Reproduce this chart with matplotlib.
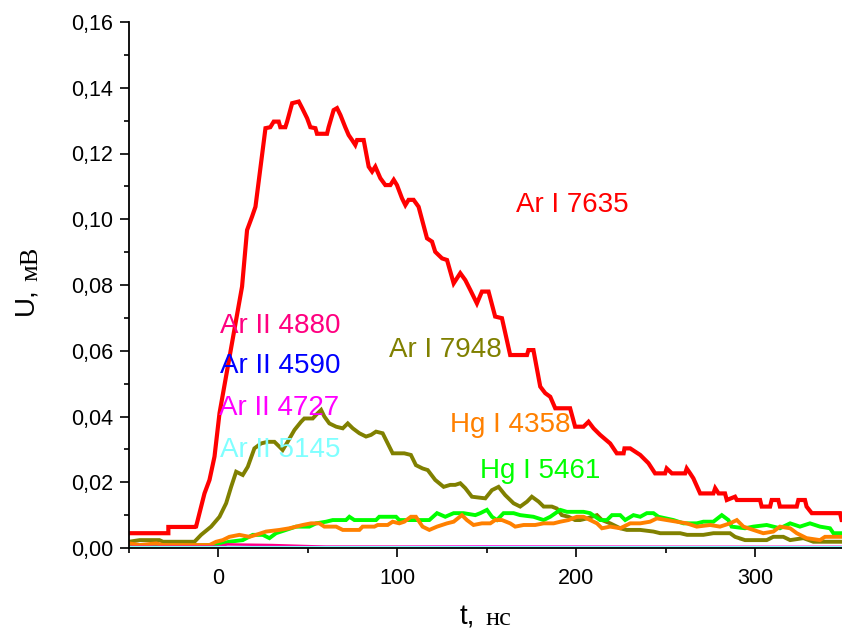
import matplotlib
matplotlib.use("Agg")
import matplotlib.pyplot as plt
from matplotlib.ticker import MultipleLocator, FuncFormatter

# ---------------- data ----------------
t_ar7635 = [-50, -28, -28, -13, -12.5, -10.6, -7.8, -5, -2.2, 0.6, 3.9, 13.2, 16, 18.8, 20.7, 26.3, 29,
            30.9, 33.7, 34.6, 37.4, 38.4, 41.2, 44.9, 46.8, 49.6, 51.4, 54.2, 55.1, 60.7, 61.6, 64.4,
            66.3, 68.2, 70.9, 72.8, 74.7, 76.5, 77.5, 81.2, 84, 85.9, 87.7, 90.5, 93.3, 96.1, 98, 99.8,
            102.6, 104.5, 106.3, 109.1, 111.9, 116.6, 119.4, 121.2, 125, 127.8, 131.5, 135.2, 138,
            140.8, 144.5, 147.3, 151, 154.7, 158.5, 163.1, 172.5, 173.3, 176.1, 179.9, 182.7, 185.5,
            188.3, 196.6, 199.4, 204.1, 206.9, 209.7, 213.4, 219, 222.7, 226.5, 227, 230.2, 235.8,
            240.4, 244.1, 249.7, 250.6, 253.5, 260.9, 261.8, 263.7, 265.5, 269.3, 276.7, 277.7, 279.6,
            283.2, 284.2, 288.8, 289.8, 302.8, 303.7, 308.4, 309.3, 313, 313.9, 323.3, 324.2, 327.9,
            328.8, 331.7, 347.5, 348.4, 350]
u_ar7635 = [0.0045, 0.0045, 0.0064, 0.0064, 0.0065, 0.0106, 0.0166, 0.0207, 0.0278, 0.041, 0.0511, 0.0795,
            0.0967, 0.1008, 0.1038, 0.1277, 0.128, 0.1297, 0.1297, 0.128, 0.128, 0.1297, 0.1353, 0.1358,
            0.1338, 0.1307, 0.128, 0.1277, 0.126, 0.126, 0.128, 0.1332, 0.1338, 0.1317, 0.128, 0.1256,
            0.1241, 0.1226, 0.1241, 0.1241, 0.116, 0.1145, 0.116, 0.1125, 0.1104, 0.1104, 0.112, 0.1104,
            0.1064, 0.1043, 0.1059, 0.1059, 0.1038, 0.0942, 0.0932, 0.0901, 0.0881, 0.0876, 0.0805,
            0.0836, 0.0815, 0.0785, 0.0744, 0.078, 0.078, 0.0704, 0.0699, 0.0587, 0.0587, 0.0602,
            0.0602, 0.0491, 0.0471, 0.046, 0.0425, 0.0425, 0.0369, 0.0369, 0.0384, 0.0364, 0.0344,
            0.0318, 0.0288, 0.0288, 0.0303, 0.0303, 0.0283, 0.0258, 0.0227, 0.0227, 0.0242, 0.0227,
            0.0227, 0.0242, 0.0227, 0.0212, 0.0166, 0.0166, 0.0182, 0.0166, 0.0166, 0.0146, 0.0156,
            0.0146, 0.0146, 0.0126, 0.0126, 0.0146, 0.0146, 0.0126, 0.0126, 0.0146, 0.0146, 0.0126,
            0.0106, 0.0106, 0.0085, 0.0085]

t_ar7948 = [-50, -44, -33, -31, -13.4, -9.7, -4.1, 0.6, 4.3, 7.1, 9.9, 13.6, 16.4, 20.1, 23.8, 27.5, 31.3,
            34.1, 35.9, 38.7, 42.5, 46.2, 48, 52.7, 54.6, 57.4, 59.2, 62, 65.8, 69.5, 72.3, 75.1, 78.8,
            82.5, 85.3, 88.1, 91.8, 97.4, 103.9, 107.6, 110.4, 114.1, 117, 121.2, 125.9, 129.6, 132.4,
            135.2, 138, 141.7, 149.2, 152.9, 156.6, 160.3, 165, 168.7, 172.5, 175.2, 179, 181.8, 186.4,
            189.2, 192, 195.7, 199.4, 202.2, 206, 211.6, 214.4, 219, 224.6, 228.3, 235.8, 243.2, 247,
            258.1, 262, 271.1, 276.7, 286, 288.8, 294.4, 306.5, 310.2, 315.8, 319.6, 327, 332.6, 350]
u_ar7948 = [0.0019, 0.0024, 0.0024, 0.0019, 0.0019, 0.004, 0.0065, 0.0095, 0.0136, 0.0186, 0.0232, 0.0222,
            0.0247, 0.0303, 0.0318, 0.0323, 0.0323, 0.0308, 0.0298, 0.0323, 0.0359, 0.0384, 0.0394,
            0.0394, 0.0405, 0.042, 0.04, 0.0379, 0.0369, 0.0364, 0.0379, 0.0364, 0.0349, 0.0339, 0.0344,
            0.0354, 0.0349, 0.0288, 0.0288, 0.0283, 0.0252, 0.0242, 0.0237, 0.0207, 0.0186, 0.0192,
            0.0192, 0.0197, 0.0182, 0.0156, 0.0151, 0.0176, 0.0186, 0.0161, 0.0136, 0.0126, 0.0141,
            0.0156, 0.0141, 0.0126, 0.0126, 0.012, 0.01, 0.0095, 0.0085, 0.0085, 0.009, 0.01, 0.0085,
            0.0075, 0.006, 0.0055, 0.0055, 0.005, 0.0045, 0.0045, 0.004, 0.004, 0.0045, 0.0045, 0.0034,
            0.0024, 0.0024, 0.0034, 0.0034, 0.0024, 0.003, 0.0019, 0.0019]

t_hg5461 = [-50, -3, 6.1, 13.6, 19.2, 24.8, 28.5, 32.2, 37.8, 43.4, 50.8, 54.6, 60.2, 63.9, 71.3, 73.2, 76,
            88.1, 89.9, 99.3, 101.1, 117.9, 122.2, 126.8, 131.5, 137, 143.6, 146.4, 150.1, 152.9, 155.7,
            159.4, 165, 168.7, 176.1, 181.8, 185.5, 191.1, 194.8, 200.4, 204.1, 207.8, 213.4, 217.2, 220,
            224.6, 227.4, 232, 235.8, 239.5, 243.2, 246, 254.4, 260, 267.4, 271.1, 276.7, 281.4, 285.1,
            286.9, 294.4, 299, 306.5, 310.2, 313.9, 319.6, 325.1, 330.7, 336.3, 341.9, 343.8, 350]
u_hg5461 = [0.0005, 0.0009, 0.0019, 0.0024, 0.004, 0.004, 0.003, 0.0045, 0.0055, 0.0065, 0.0065, 0.0075,
            0.008, 0.0085, 0.0085, 0.0095, 0.0085, 0.0085, 0.0095, 0.0095, 0.0085, 0.0085, 0.0106, 0.0095,
            0.0106, 0.0106, 0.01, 0.0106, 0.0116, 0.0095, 0.0085, 0.0106, 0.0106, 0.01, 0.0095, 0.0085,
            0.0095, 0.0116, 0.011, 0.011, 0.011, 0.0106, 0.0085, 0.0085, 0.01, 0.01, 0.0085, 0.01, 0.0095,
            0.0106, 0.0106, 0.0095, 0.0085, 0.0075, 0.0075, 0.008, 0.008, 0.01, 0.0085, 0.0065, 0.006,
            0.0065, 0.007, 0.0065, 0.006, 0.0075, 0.0065, 0.0075, 0.0065, 0.006, 0.0045, 0.0045]

t_hg4358 = [-50, -44, -34.8, -31, -5, -1.3, 2.4, 6.1, 11.7, 17.3, 21, 26.6, 34.1, 39.7, 47.1, 51.8, 56.4,
            59.2, 65.8, 69.5, 78.8, 80.6, 87.2, 89, 94.6, 97.4, 101.1, 103.9, 107.6, 110.4, 114.1, 117.9,
            122.2, 127.8, 131.5, 136.1, 138.9, 142.6, 147.3, 152, 154.7, 158.5, 163.1, 165.9, 170.6,
            177.1, 181.8, 187.4, 191.1, 195.7, 200.4, 204.1, 207.8, 211.6, 214.4, 219, 224.6, 230.2,
            235.8, 241.3, 245.1, 250.6, 256.2, 261.8, 267.4, 274.9, 280.4, 286, 289.8, 293.5, 299, 304.6,
            310.2, 313.9, 319.6, 323.3, 328.8, 336.3, 339.1, 350]
u_hg4358 = [0.0014, 0.0009, 0.0014, 0.0009, 0.0009, 0.0019, 0.0024, 0.0034, 0.004, 0.0034, 0.004, 0.005,
            0.0055, 0.006, 0.007, 0.0075, 0.0075, 0.0065, 0.0065, 0.0055, 0.0055, 0.0065, 0.0065, 0.007,
            0.007, 0.008, 0.0075, 0.008, 0.0095, 0.0095, 0.0065, 0.0055, 0.0065, 0.0075, 0.008, 0.01,
            0.0085, 0.007, 0.0075, 0.0075, 0.0085, 0.0085, 0.0075, 0.0065, 0.007, 0.007, 0.0075, 0.0075,
            0.008, 0.0085, 0.0095, 0.0095, 0.0085, 0.0075, 0.006, 0.0065, 0.006, 0.0075, 0.0075, 0.008,
            0.009, 0.0085, 0.008, 0.0075, 0.0065, 0.007, 0.0065, 0.0075, 0.0085, 0.0065, 0.0055, 0.0045,
            0.005, 0.0065, 0.006, 0.0045, 0.003, 0.0024, 0.0034, 0.0034]

t_ar4880 = [-50, 0, 5, 30, 60, 350]
u_ar4880 = [0.0003, 0.0004, 0.0011, 0.0009, 0.0004, 0.0003]
t_ar4590 = [-50, 350]
u_ar4590 = [0.0002, 0.0002]
t_ar4727 = [-50, 100, 150, 250, 350]
u_ar4727 = [0.0003, 0.0003, 0.0004, 0.0003, 0.0003]
t_ar5145 = [-50, 350]
u_ar5145 = [0.0004, 0.0004]

labels = ["Ar I 7635", "Ar I 7948", "Hg I 5461", "Hg I 4358",
          "Ar II 4880", "Ar II 4590", "Ar II 4727", "Ar II 5145"]
label_x = [166.5, 95.1, 146, 129.2, 0.7, 0.7, 0.3, 0.7]
label_y = [0.1023, 0.058, 0.0212, 0.0354, 0.0653, 0.0531, 0.0405, 0.0278]
colors = ["#FF0000", "#808000", "#00FF00", "#FF8000", "#FF0080", "#0000FF", "#FF00FF", "#80FFFF"]

xticks = [0, 100, 200, 300]
yticks = [0.00, 0.02, 0.04, 0.06, 0.08, 0.10, 0.12, 0.14, 0.16]

# ---------------- plot ----------------
SANS = "Liberation Sans"
SERIF = "Liberation Serif"
plt.rcParams["font.family"] = [SANS, "DejaVu Sans"]

W, H = 842, 631
fig = plt.figure(figsize=(W / 100, H / 100), dpi=100)
ax = fig.add_axes([129 / W, (H - 548) / H, (844.5 - 129) / W, (548 - 22) / H])

series = [(t_ar7635, u_ar7635), (t_ar7948, u_ar7948), (t_hg5461, u_hg5461), (t_hg4358, u_hg4358),
          (t_ar4880, u_ar4880), (t_ar4590, u_ar4590), (t_ar4727, u_ar4727), (t_ar5145, u_ar5145)]
widths = [3.0, 2.8, 2.8, 2.8, 1.8, 1.8, 1.8, 2.2]
for (tx, uy), c, lw in zip(series, colors, widths):
    ax.plot(tx, uy, color=c, lw=lw, solid_joinstyle="miter", clip_on=True)

for txt, lx, ly, c in zip(labels, label_x, label_y, colors):
    ax.text(lx, ly, txt, color=c, fontsize=20, ha="left", va="baseline", family=[SANS, "DejaVu Sans"])

ax.set_xlim(-50, 350)
ax.set_ylim(0, 0.16)
ax.set_xticks(xticks)
ax.set_yticks(yticks)
ax.xaxis.set_minor_locator(MultipleLocator(50))
ax.yaxis.set_minor_locator(MultipleLocator(0.01))
ax.yaxis.set_major_formatter(FuncFormatter(lambda v, p: f"{v:.2f}".replace(".", ",")))
ax.xaxis.set_major_formatter(FuncFormatter(lambda v, p: f"{v:.0f}"))

for s in ["top", "right"]:
    ax.spines[s].set_visible(False)
for s in ["left", "bottom"]:
    ax.spines[s].set_linewidth(1.3)
ax.tick_params(which="major", direction="out", length=6.5, width=1.2, labelsize=15.5)
ax.tick_params(which="minor", direction="out", length=3.6, width=1.2)
ax.tick_params(axis="x", which="major", pad=8)
ax.tick_params(axis="y", which="major", pad=5)

# axis labels (sans + serif pieces)
fig.text(460 / W, 1 - 625 / H, "t,", fontsize=20, family=[SANS], ha="left", va="baseline")
fig.text(485 / W, 1 - 625 / H, "нс", fontsize=19, family=[SERIF, "DejaVu Serif"], ha="left", va="baseline")
fig.text(32 / W, 1 - 315 / H, "U,", fontsize=20, family=[SANS], rotation=90,
         rotation_mode="anchor", ha="left", va="baseline")
fig.text(37 / W, 1 - 281 / H, "мВ", fontsize=19, family=[SERIF, "DejaVu Serif"], rotation=90,
         rotation_mode="anchor", ha="left", va="baseline")

fig.savefig("out.png", dpi=100)
